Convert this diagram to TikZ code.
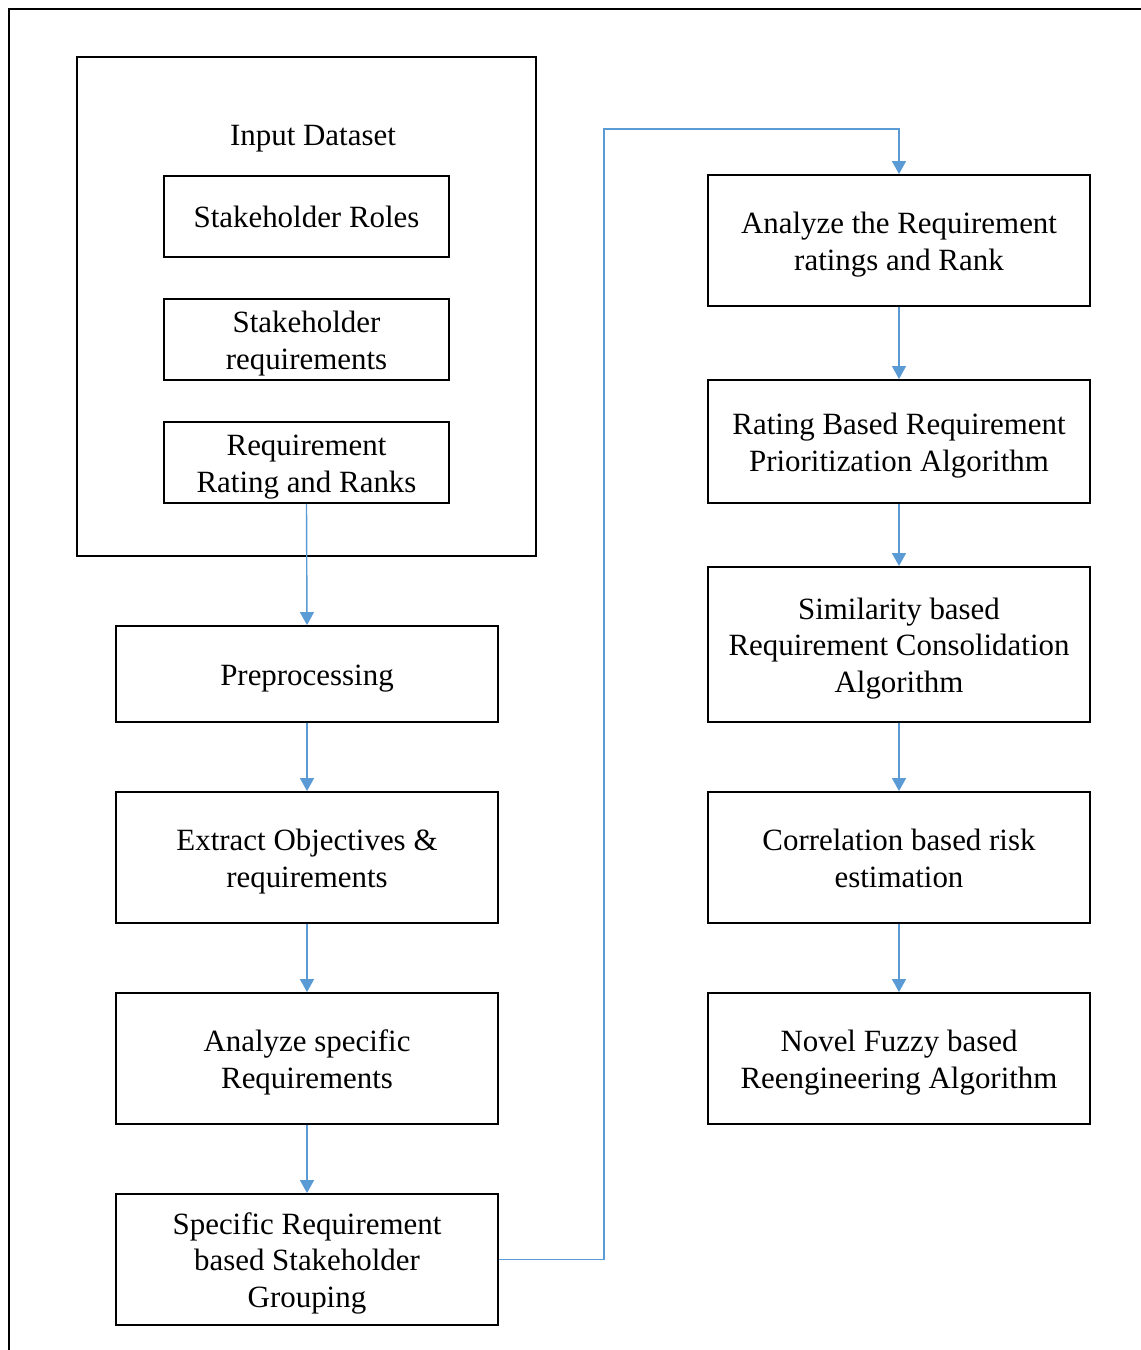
\documentclass[tikz,border=0pt]{standalone}
\usepackage{fontspec}
\setmainfont{Liberation Serif}
\usetikzlibrary{arrows.meta}
\definecolor{arrowblue}{RGB}{91,155,213}
\newcommand{\lstrut}{\rule[-4pt]{0pt}{21pt}}
\begin{document}
\begin{tikzpicture}[x=0.02cm,y=-0.02cm,
  box/.style={draw=black, line width=1.1pt, inner sep=0pt, align=center,
    font=\fontsize{17.6}{21}\selectfont},
  smallbox/.style={box, minimum width=5.7cm, minimum height=1.62cm},
  leftbox/.style={box, minimum width=7.64cm},
  rightbox/.style={box, minimum width=7.64cm},
  flow/.style={draw=arrowblue, line width=0.8pt, -{Triangle[width=0.28cm,length=0.26cm]}},
  lbl/.style={inner sep=0pt, font=\fontsize{17.6}{21}\selectfont},
]
\useasboundingbox (0,0) rectangle (1141,1350);
% outer frame
\draw[line width=1.3pt] (9,1352) -- (9,9) -- (1143,9);

% input dataset group
\node[draw=black, line width=1.1pt, inner sep=0pt, minimum width=9.18cm, minimum height=9.98cm] (input) at (306.5,306.5) {};
\node[lbl] (inlbl) at (313,139) {Input Dataset};
\node[smallbox] (roles) at (306.5,216.5) {\lstrut Stakeholder Roles};
\node[smallbox] (sreq) at (306.5,339.5) {\lstrut Stakeholder\\\lstrut requirements};
\node[smallbox] (rrank) at (306.5,462.5) {\lstrut Requirement\\\lstrut Rating and Ranks};

% left column
\node[leftbox, minimum height=1.92cm] (pre) at (307,674) {\lstrut Preprocessing};
\node[leftbox, minimum height=2.62cm] (extr) at (307,857.5) {\lstrut Extract Objectives \&\\\lstrut requirements};
\node[leftbox, minimum height=2.62cm] (anspec) at (307,1058.5) {\lstrut Analyze specific\\\lstrut Requirements};
\node[leftbox, minimum height=2.62cm] (group) at (307,1259.5) {\lstrut Specific  Requirement\\\lstrut based Stakeholder\\\lstrut Grouping};

% right column
\node[rightbox, minimum height=2.62cm] (anreq) at (899,240.5) {\lstrut Analyze the Requirement\\\lstrut ratings and Rank};
\node[rightbox, minimum height=2.46cm] (rating) at (899,441.5) {\lstrut Rating Based Requirement\\\lstrut Prioritization  Algorithm};
\node[rightbox, minimum height=3.1cm] (simil) at (899,644.5) {\lstrut Similarity  based\\\lstrut Requirement Consolidation\\\lstrut Algorithm};
\node[rightbox, minimum height=2.62cm] (corr) at (899,857.5) {\lstrut Correlation based risk\\\lstrut estimation};
\node[rightbox, minimum height=2.62cm] (fuzzy) at (899,1058.5) {\lstrut Novel Fuzzy based\\\lstrut Reengineering Algorithm};

% connectors
\draw[flow] (rrank.south) -- (pre.north);
\draw[flow] (pre.south) -- (extr.north);
\draw[flow] (extr.south) -- (anspec.north);
\draw[flow] (anspec.south) -- (group.north);
\coordinate (bend) at (604,129);
\draw[flow] (group.east) -| (bend) -| (anreq.north);
\draw[flow] (anreq.south) -- (rating.north);
\draw[flow] (rating.south) -- (simil.north);
\draw[flow] (simil.south) -- (corr.north);
\draw[flow] (corr.south) -- (fuzzy.north);
\end{tikzpicture}
\end{document}
